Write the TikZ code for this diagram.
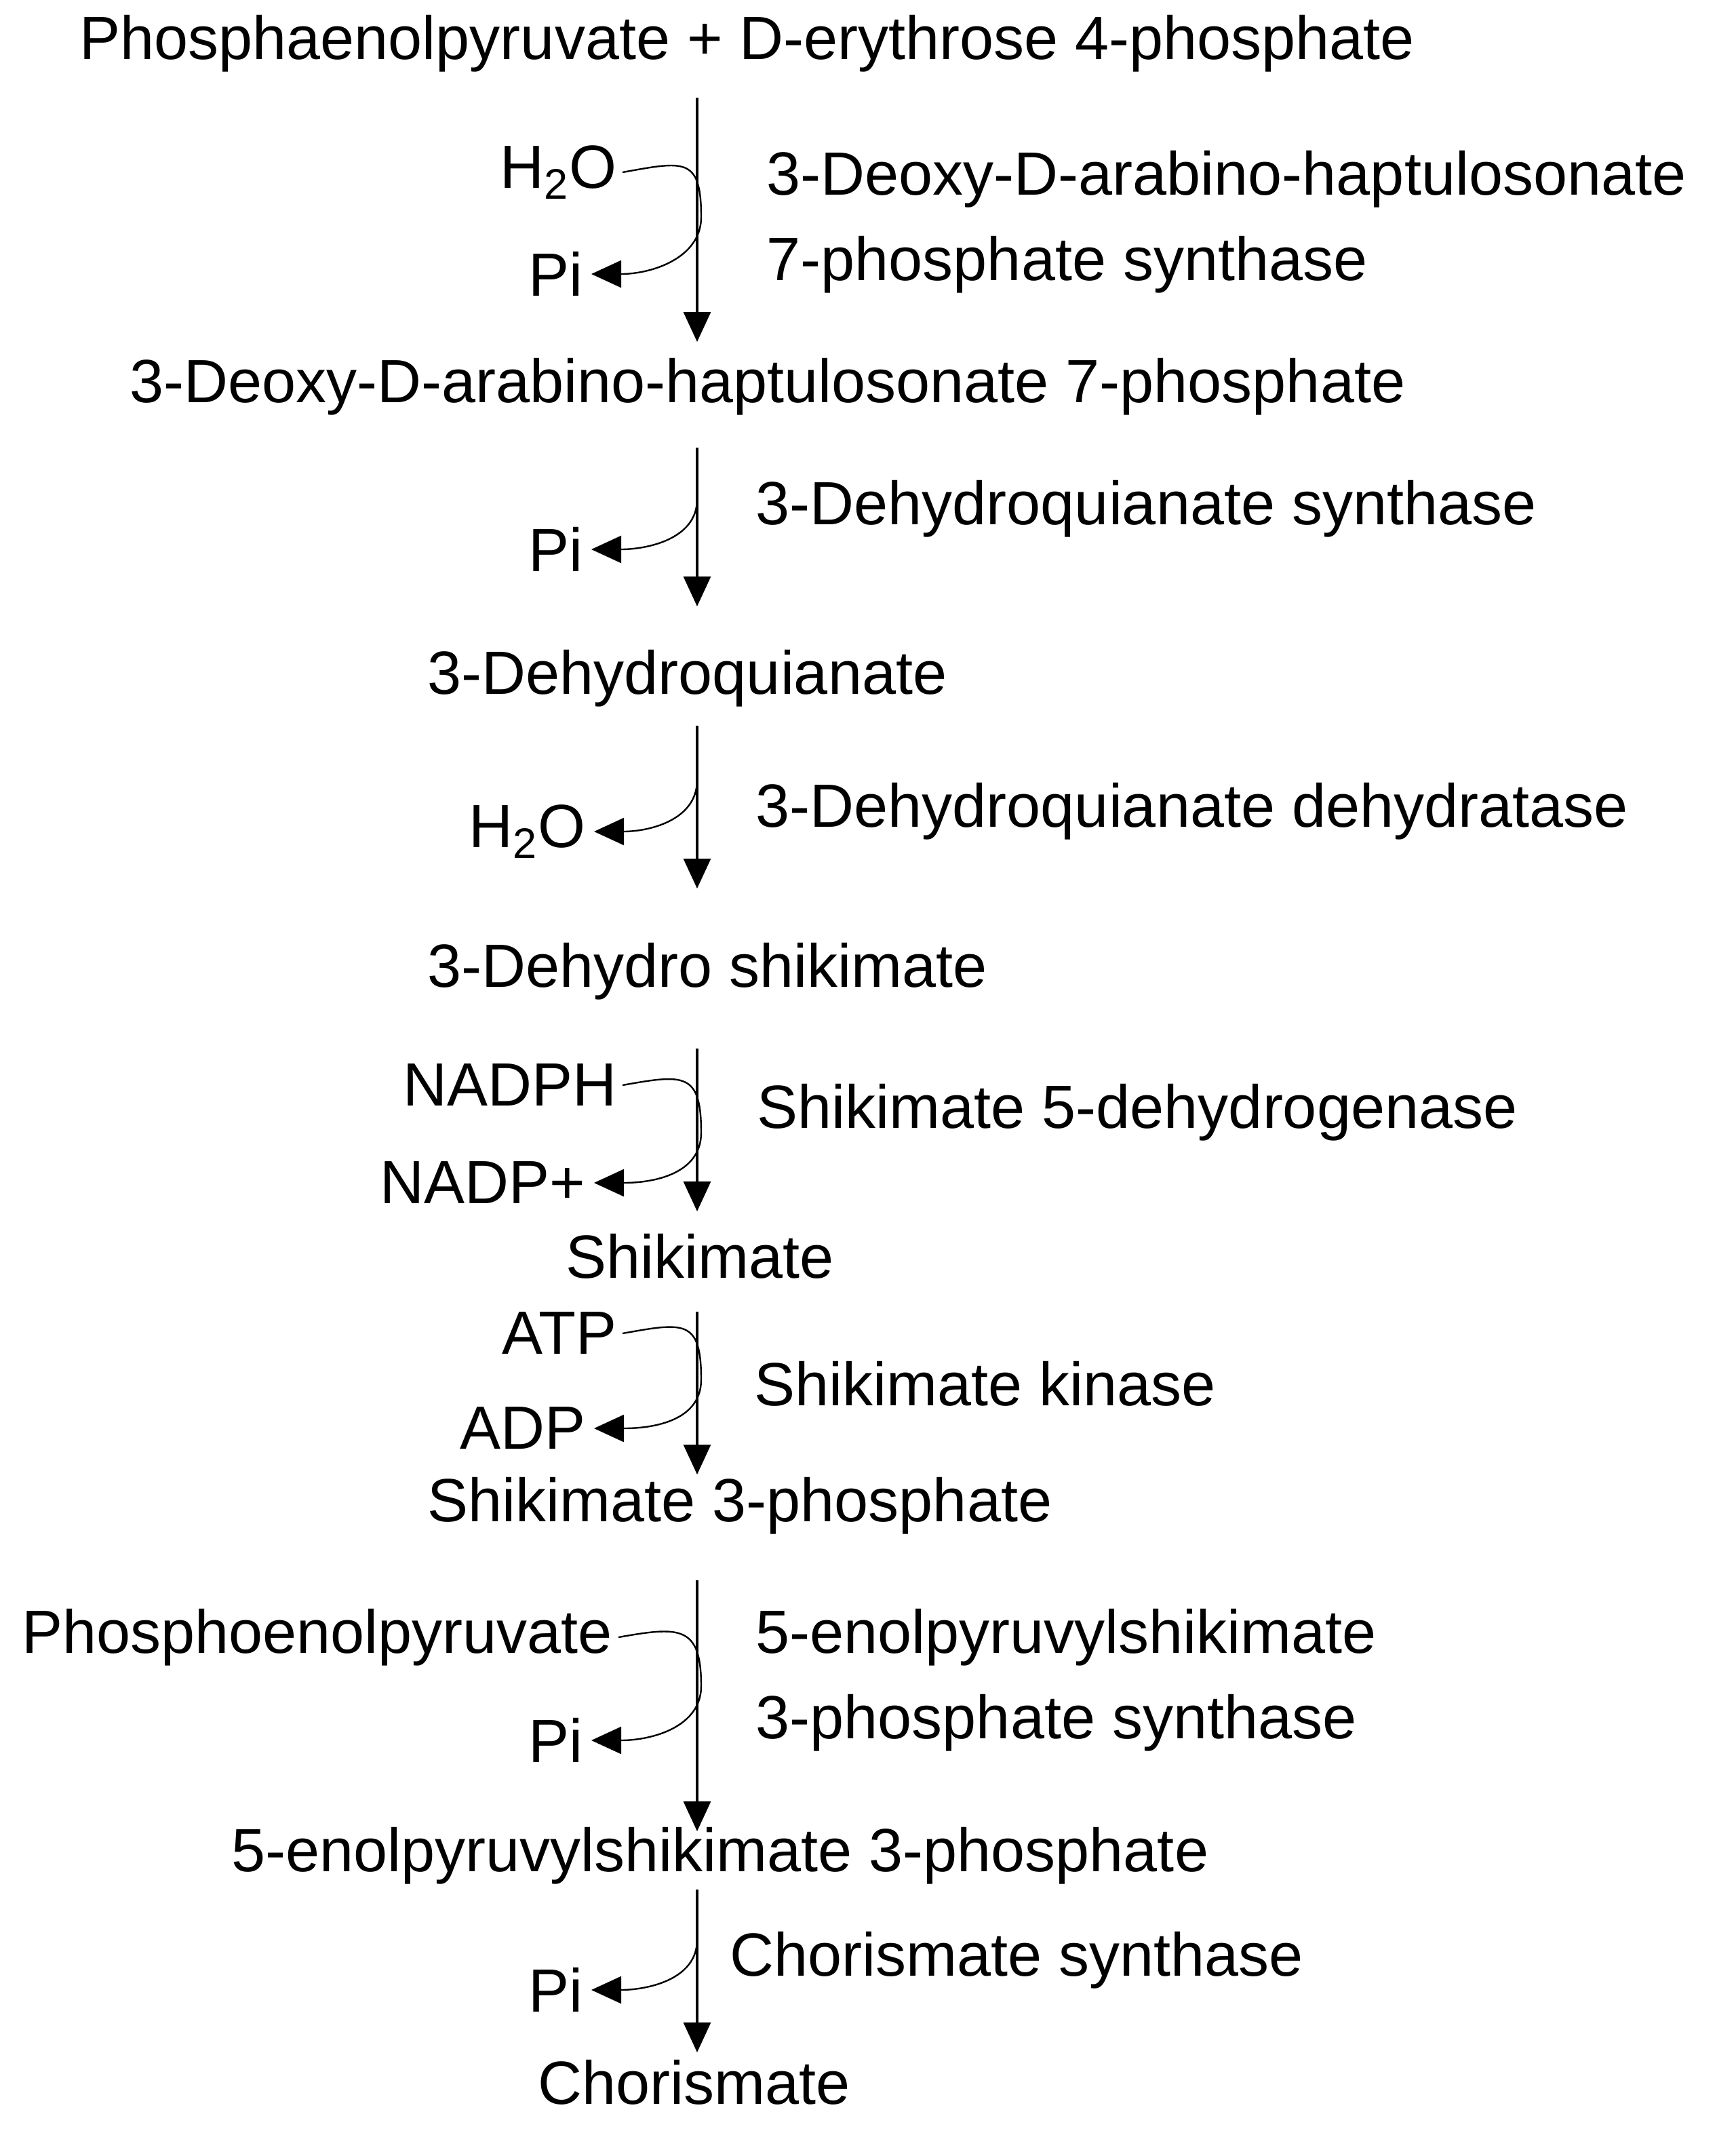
\documentclass[tikz,border=0pt]{standalone}
\usepackage{fontspec}
\setmainfont{Liberation Sans}
\usetikzlibrary{arrows.meta}
\begin{document}
\begin{tikzpicture}[x=0.5pt,y=-0.5pt,
  txt/.style={inner sep=0pt,font=\fontsize{22.5}{26}\selectfont},
  main/.style={line width=0.8pt,-{Triangle[length=11pt,width=10pt]}},
  side/.style={line width=0.6pt,-{Triangle[length=11pt,width=10pt]}}]
\useasboundingbox (0,0) rectangle (1280,1571);
% compounds
\node[txt] (c1) at (551,32) {Phosphaenolpyruvate + D-erythrose 4-phosphate};
\node[txt] (c2) at (566,285) {3-Deoxy-D-arabino-haptulosonate 7-phosphate};
\node[txt,anchor=west] (c3) at (315,500) {3-Dehydroquianate};
\node[txt,anchor=west] (c4) at (315,716) {3-Dehydro shikimate};
\node[txt] (c5) at (516,926) {Shikimate};
\node[txt,anchor=west] (c6) at (315,1110) {Shikimate 3-phosphate};
\node[txt] (c7) at (531,1368) {5-enolpyruvylshikimate 3-phosphate};
\node[txt] (c8) at (512,1535) {Chorismate};
% enzymes
\node[txt,anchor=west] (e1a) at (565,132) {3-Deoxy-D-arabino-haptulosonate};
\node[txt,anchor=west] (e1b) at (565,195) {7-phosphate synthase};
\node[txt,anchor=west] (e2) at (557,375) {3-Dehydroquianate synthase};
\node[txt,anchor=west] (e3) at (557,598) {3-Dehydroquianate dehydratase};
\node[txt,anchor=west] (e4) at (558,820) {Shikimate 5-dehydrogenase};
\node[txt,anchor=west] (e5) at (556,1020) {Shikimate kinase};
\node[txt,anchor=west] (e6a) at (557,1207) {5-enolpyruvylshikimate};
\node[txt,anchor=west] (e6b) at (557,1270) {3-phosphate synthase};
\node[txt,anchor=west] (e7) at (538,1445) {Chorismate synthase};
% co-substrates
\node[txt,anchor=east] (s1) at (455,127) {H\textsubscript{2}O};
\node[txt,anchor=east] (p1) at (430,202) {Pi};
\node[txt,anchor=east] (p2) at (430,405) {Pi};
\node[txt,anchor=east] (p3) at (432,613) {H\textsubscript{2}O};
\node[txt,anchor=east] (s4) at (455,800) {NADPH};
\node[txt,anchor=east] (p4) at (432,872) {NADP+};
\node[txt,anchor=east] (s5) at (455,983) {ATP};
\node[txt,anchor=east] (p5) at (432,1053) {ADP};
\node[txt,anchor=east] (s6) at (452,1207) {Phosphoenolpyruvate};
\node[txt,anchor=east] (p6) at (430,1283) {Pi};
\node[txt,anchor=east] (p7) at (430,1467) {Pi};
% main arrows
\foreach \n/\a/\b in {1/72/252,2/330/447,3/535/655,4/773/893,5/967/1087,6/1165/1350,7/1393/1513}{
  \coordinate (t\n) at (514,\a); \coordinate (h\n) at (514,\b);
  \draw[main] (t\n) -- (h\n);}
% side arrows with inputs
\foreach \s/\p/\m in {s1/p1/160,s4/p4/835,s5/p5/1017,s6/p6/1243}{
  \draw[side] ([xshift=2pt]\s.east) .. controls +(45,-8) and (517,\m-45) .. (517,\m)
     .. controls (517,\m+30) and +(45,0) .. ([xshift=3pt]\p.east);}
% side arrows without inputs
\foreach \p/\m in {p2/368,p3/575,p7/1430}{
  \draw[side] (514,\m) .. controls (514,\m+30) and +(40,0) .. ([xshift=3pt]\p.east);}
\end{tikzpicture}
\end{document}
